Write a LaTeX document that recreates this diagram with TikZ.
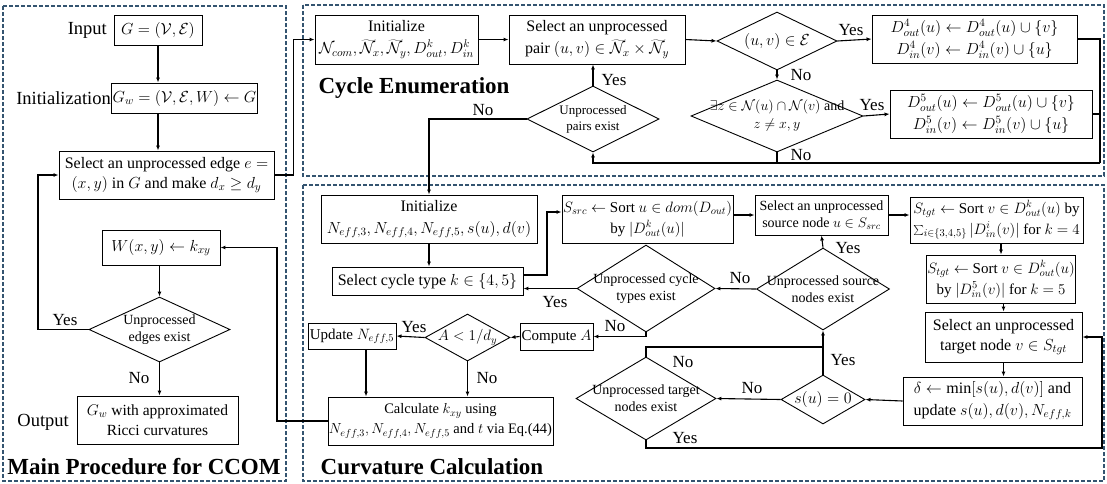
\RequirePackage{fix-cm}
\documentclass[tikz,border=0pt]{standalone}
\usepackage{fontspec}
\setmainfont{Liberation Serif}
\usetikzlibrary{shapes.geometric,arrows.meta}
\definecolor{panelc}{RGB}{52,84,112}
\begin{document}
\begin{tikzpicture}[x=1pt,y=-1pt,
  box/.style={draw, line width=0.9pt, align=center, inner sep=1pt, font=\fontsize{16}{21.5}\selectfont},
  dia/.style={draw, diamond, line width=0.9pt, inner sep=0pt},
  dtxt/.style={align=center, inner sep=0pt, font=\fontsize{14}{17}\selectfont},
  arr/.style={line width=1.1pt, -{Latex[length=5pt,width=4pt]}},
  ln/.style={line width=1.1pt},
  lab/.style={font=\fontsize{17}{20}\selectfont, inner sep=0pt},
  big/.style={font=\fontsize{18.5}{22}\selectfont, inner sep=0pt},
  panel/.style={draw=panelc, dash pattern=on 4pt off 2pt, line width=1.2pt},
  ttl/.style={font=\bfseries\fontsize{23}{27}\selectfont, inner sep=0pt}]
\useasboundingbox (0,0) rectangle (1107,483);
% panels
\draw[panel] (3,6) rectangle (286,481);
\draw[panel] (303,5) rectangle (1104,176);
\draw[panel] (303,185) rectangle (1104,481);

% ---------- Main procedure ----------
\node[box, minimum width=88pt, minimum height=30pt] (inp) at (158,30) {$G=(\mathcal{V},\mathcal{E})$};
\node[big, anchor=east] (tinp) at (107,30) {Input};
\node[box, minimum width=141pt, minimum height=30pt] (ini) at (184.5,98) {$G_w=(\mathcal{V},\mathcal{E},W)\leftarrow G$};
\node[big, anchor=east] (tini) at (111,98) {Initialization};
\node[box, minimum width=215pt, minimum height=48pt, font=\fontsize{16}{20}\selectfont] (sel) at (166.5,175) {Select an unprocessed edge $e=$\\$(x,y)$ in $G$ and make $d_x\geq d_y$};
\node[box, minimum width=118pt, minimum height=35pt] (W) at (161,247.5) {$W(x,y)\leftarrow k_{xy}$};
\node[dia, minimum width=141pt, minimum height=65pt] (de) at (159.5,329.5) {};
\node[dtxt] (tde) at (de) {Unprocessed\\edges exist};
\node[box, minimum width=161pt, minimum height=48pt, font=\fontsize{15.5}{20}\selectfont] (out) at (157.5,420) {$G_w$ with approximated\\Ricci curvatures};
\node[big, anchor=east] (tout) at (69,422) {Output};
\node[ttl] (t1) at (144,467) {Main Procedure for CCOM};

\draw[arr] (inp.south) -- (inp.south |- ini.north);
\draw[arr] (inp.south |- ini.south) -- (inp.south |- sel.north);
\draw[arr] (de.north |- W.south) -- (de.north);
\draw[arr] (de.south) -- (de.south |- out.north);
\coordinate (cy) at (38,329.5);
\draw[arr] (de.west) -- (cy) |- (sel.west);
\node[lab] (l1) at (65,320) {Yes};
\node[lab] (l2) at (139,378) {No};

% ---------- Cycle enumeration ----------
\node[box, minimum width=163pt, minimum height=49pt, font=\fontsize{16}{22}\selectfont] (ci) at (396.5,39.5) {Initialize\\$\mathcal{N}_{com},\widetilde{\mathcal{N}}_x,\widetilde{\mathcal{N}}_y,D^k_{out},D^k_{in}$};
\node[box, minimum width=176pt, minimum height=49pt, font=\fontsize{16}{22}\selectfont] (sp) at (597,39.5) {Select an unprocessed\\pair $(u,v)\in\widetilde{\mathcal{N}}_x\times\widetilde{\mathcal{N}}_y$};
\node[dia, minimum width=120pt, minimum height=58pt] (duv) at (777,41) {};
\node[dtxt, font=\fontsize{16}{19}\selectfont] (tduv) at (duv) {$(u,v)\in\mathcal{E}$};
\node[box, minimum width=205pt, minimum height=48pt, font=\fontsize{16}{22.5}\selectfont] (d4) at (974.5,39) {$D^4_{out}(u)\leftarrow D^4_{out}(u)\cup\{v\}$\\$D^4_{in}(v)\leftarrow D^4_{in}(v)\cup\{u\}$};
\node[dia, minimum width=172pt, minimum height=72pt] (dz) at (777,116) {};
\node[dtxt, font=\fontsize{14}{18}\selectfont] (tdz) at (dz) {$\exists z\in\mathcal{N}(u)\cap\mathcal{N}(v)$ and\\$z\neq x,y$};
\node[box, minimum width=202pt, minimum height=48pt, font=\fontsize{16}{22.5}\selectfont] (d5) at (991,114) {$D^5_{out}(u)\leftarrow D^5_{out}(u)\cup\{v\}$\\$D^5_{in}(v)\leftarrow D^5_{in}(v)\cup\{u\}$};
\node[dia, minimum width=132pt, minimum height=66pt] (dp) at (593,119) {};
\node[dtxt, font=\fontsize{13}{16}\selectfont] (tdp) at (dp) {Unprocessed\\pairs exist};
\node[ttl] (t2) at (414,88) {Cycle Enumeration};

\draw[arr] (sel.east) -- ++(19,0) |- (ci.west);
\draw[arr] (ci.east) -- (sp.west);
\draw[arr] (sp.east) -- (duv.west);
\draw[arr] (duv.east) -- (d4.west);
\draw[arr] (duv.south) -- (dz.north);
\draw[arr] (dz.east) -- (d5.west);
\coordinate (rr) at (1100,163);
\draw[ln] (d4.east) -| (rr);
\draw[ln] (d5.east) -- (d5.east -| rr);
\draw[ln] (dz.south) -- (dz.south |- rr);
\draw[arr] (rr) -| (dp.south);
\draw[arr] (dp.north) -- (dp.north |- sp.south);
\node[lab] (l3) at (851,30) {Yes};
\node[lab] (l4) at (801,75) {No};
\node[lab] (l5) at (872,105) {Yes};
\node[lab] (l6) at (801,155) {No};
\node[lab] (l7) at (614,80) {Yes};
\node[lab] (l8) at (483,110) {No};

% ---------- Curvature calculation ----------
\node[box, minimum width=216pt, minimum height=48pt, font=\fontsize{16}{22}\selectfont] (ki) at (429,219) {Initialize\\$N_{eff,3},N_{eff,4},N_{eff,5},s(u),d(v)$};
\node[box, minimum width=191pt, minimum height=28pt] (sc) at (427.5,281) {Select cycle type $k\in\{4,5\}$};
\node[box, minimum width=171pt, minimum height=48pt, font=\fontsize{15}{21}\selectfont] (ssrc) at (647.5,219) {$S_{src}\leftarrow$ Sort $u\in dom(D_{out})$\\by $|D^k_{out}(u)|$};
\node[box, minimum width=133pt, minimum height=40pt, font=\fontsize{14}{17}\selectfont] (ssn) at (821.5,215) {Select an unprocessed\\source node $u\in S_{src}$};
\node[box, minimum width=173pt, minimum height=46pt, font=\fontsize{15}{21}\selectfont] (st1) at (996.5,220) {$S_{tgt}\leftarrow$ Sort $v\in D^k_{out}(u)$ by\\$\sum_{i\in\{3,4,5\}}|D^i_{in}(v)|$ for $k=4$};
\node[box, minimum width=148pt, minimum height=48pt, font=\fontsize{15}{21}\selectfont] (st2) at (1001,279) {$S_{tgt}\leftarrow$ Sort $v\in D^k_{out}(u)$\\by $|D^5_{in}(v)|$ for $k=5$};
\node[box, minimum width=157pt, minimum height=50pt, font=\fontsize{16}{20}\selectfont] (stn) at (1003.5,337) {Select an unprocessed\\target node $v\in S_{tgt}$};
\node[box, minimum width=179pt, minimum height=48pt] (dl) at (992.5,401) {$\delta\leftarrow\min[s(u),d(v)]$ and\\update $s(u),d(v),N_{eff,k}$};
\node[dia, minimum width=138pt, minimum height=87pt] (dct) at (646,288.5) {};
\node[dtxt] (tdct) at (dct) {Unprocessed cycle\\types exist};
\node[dia, minimum width=133pt, minimum height=82pt] (dsn) at (823,289) {};
\node[dtxt] (tdsn) at (dsn) {Unprocessed source\\nodes exist};
\node[dia, minimum width=84pt, minimum height=49pt] (ds0) at (823,399.5) {};
\node[dtxt, font=\fontsize{16}{19}\selectfont] (tds0) at (ds0) {$s(u)=0$};
\node[dia, minimum width=140pt, minimum height=83pt] (dtn) at (646,398.5) {};
\node[dtxt] (tdtn) at (dtn) {Unprocessed target\\nodes exist};
\node[box, minimum width=73pt, minimum height=27pt, font=\fontsize{15}{18}\selectfont] (ca) at (556.5,336.5) {Compute $A$};
\node[dia, minimum width=85pt, minimum height=47pt] (dA) at (467.5,337.5) {};
\node[dtxt, font=\fontsize{15}{18}\selectfont] (tdA) at (dA) {$A<1/d_y$};
\node[box, minimum width=88pt, minimum height=26pt, font=\fontsize{15}{18}\selectfont] (up) at (352,336) {Update $N_{eff,5}$};
\node[box, minimum width=219pt, minimum height=48pt, font=\fontsize{14.5}{20}\selectfont] (calc) at (440.5,421) {Calculate $k_{xy}$ using\\$N_{eff,3},N_{eff,4},N_{eff,5}$ and $t$ via Eq.(44)};
\node[ttl] (t3) at (432,467) {Curvature Calculation};

\draw[arr] (dp.west) -| (ki.north);
\draw[arr] (ki.south) -- (ki.south |- sc.north);
\coordinate (sx) at (547,250);
\draw[arr] ([yshift=6pt]sc.east) -| (sx) |- ([yshift=7pt]ssrc.west);
\draw[arr] (dct.west) -- (dct.west -| sc.east);
\draw[arr] (ssrc.east |- ssn.west) -- (ssn.west);
\draw[arr] (ssn.east) -- (ssn.east -| st1.west);
\draw[arr] (st2.north |- st1.south) -- (st2.north);
\draw[arr] (stn.north |- st2.south) -- (stn.north);
\draw[arr] (stn.south) -- (stn.south |- dl.north);
\draw[arr] (dl.west) -- (ds0.east);
\draw[arr] (ds0.west) -- (dtn.east);
\draw[arr] (ds0.north) -- (dsn.south);
\coordinate (jn) at (823,347);
\draw[ln] (dtn.north) |- (jn);
\coordinate (ty) at (1102,448);
\draw[arr] (dtn.south) |- (ty) |- (stn.east);
\draw[arr] (dsn.west) -- (dct.east);
\draw[arr] (dsn.north) -- (ssn.south);
\draw[arr] (dct.south) |- (ca.east);
\draw[arr] (ca.west) -- (dA.east);
\draw[arr] (dA.west) -- (up.east);
\draw[arr] (dA.south) -- (dA.south |- calc.north);
\draw[arr] ([xshift=14pt]up.south) -- ([xshift=14pt]up.south |- calc.north);
\coordinate (wx) at (277,421);
\draw[arr] (calc.west) -- (wx) |- (W.east);

\node[lab] (l9) at (555,302) {Yes};
\node[lab] (l10) at (615,326) {No};
\node[lab] (l11) at (740,278) {No};
\node[lab] (l12) at (848,248) {Yes};
\node[lab] (l13) at (843,360) {Yes};
\node[lab] (l14) at (752,388) {No};
\node[lab] (l15) at (683,362) {No};
\node[lab] (l16) at (685,438) {Yes};
\node[lab] (l17) at (414,327) {Yes};
\node[lab] (l18) at (487,378) {No};
\end{tikzpicture}
\end{document}
